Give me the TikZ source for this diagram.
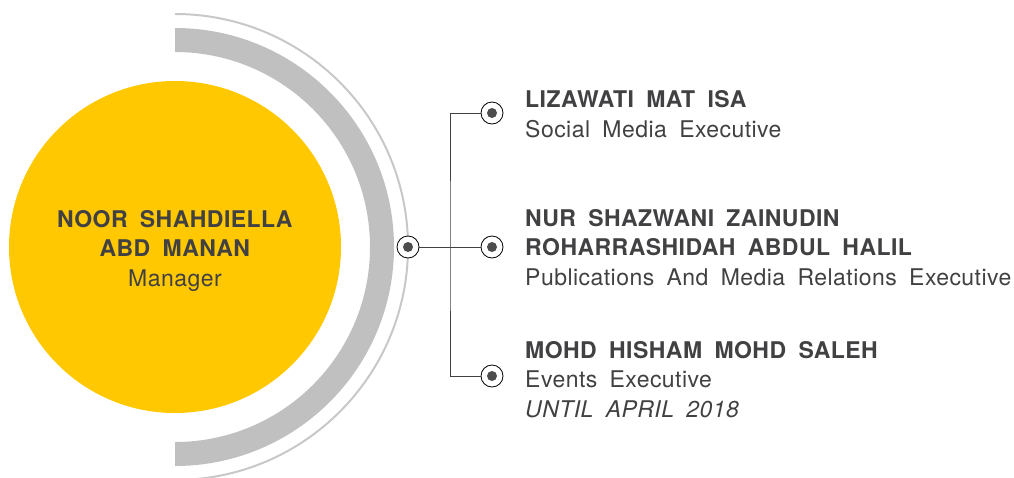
\documentclass[tikz,border=0pt]{standalone}
\usepackage{fontspec}
\setmainfont{TeX Gyre Heros}[WordSpace=1.8,LetterSpace=2]
\definecolor{sunyellow}{HTML}{FFC800}
\definecolor{ringgray}{HTML}{C0C0C0}
\definecolor{thingray}{HTML}{C8C8C8}
\definecolor{inkgray}{HTML}{414042}
\definecolor{dotgray}{HTML}{4D4D4D}
\begin{document}
\begin{tikzpicture}[x=1pt,y=-1pt,
  bullet/.style={circle,draw=black,line width=0.8pt,fill=white,minimum size=22pt,inner sep=0pt,
    path picture={\fill[dotgray] (path picture bounding box.center) circle[radius=5pt];}},
  staff/.style={inner sep=0pt,align=left,anchor=base west,text=inkgray,
    font=\fontsize{23}{29.5}\selectfont},
  link/.style={draw=inkgray,line width=0.9pt}]
\useasboundingbox (0,0) rectangle (1014,477);
\coordinate (ctr) at (175,247);
% rings, right half only
\begin{scope}
\clip (175,0) rectangle (1014,477);
\draw[ringgray,line width=24pt] (ctr) circle[radius=207];
\draw[thingray,line width=2pt] (ctr) circle[radius=233];
\end{scope}
\fill[sunyellow] (ctr) circle[radius=166];
\node[inner sep=0pt,align=center,anchor=base,text=inkgray,font=\fontsize{23}{29.5}\selectfont]
  (manager) at (175,286) {\textbf{NOOR SHAHDIELLA}\\\textbf{ABD MANAN}\\Manager};
% bullets
\node[bullet] (hub) at (408,247) {};
\node[bullet] (top) at (492,113) {};
\node[bullet] (mid) at (492,247) {};
\node[bullet] (bot) at (492,376) {};
\coordinate (fork) at (450,247);
\draw[link] (hub) -- (mid);
\draw[link] (top) -| (fork) |- (bot);
% names (anchored on the last line)
\node[staff] (lizawati) at (525,137) {\textbf{LIZAWATI MAT ISA}\\Social Media Executive};
\node[staff] (shazwani) at (525,285) {\textbf{NUR SHAZWANI ZAINUDIN}\\\textbf{ROHARRASHIDAH ABDUL HALIL}\\Publications And Media Relations Executive};
\node[staff] (hisham) at (525,417) {\textbf{MOHD HISHAM MOHD SALEH}\\Events Executive\\\textit{UNTIL APRIL 2018}};
\end{tikzpicture}
\end{document}
